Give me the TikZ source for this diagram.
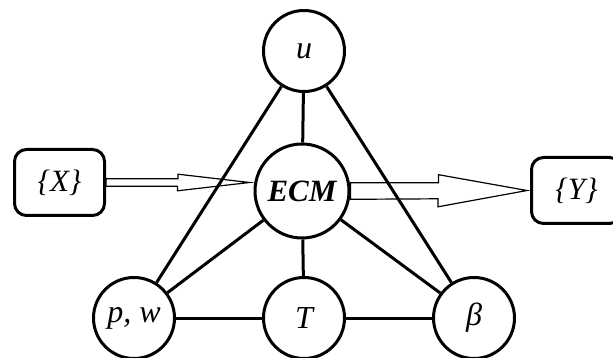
\documentclass[tikz,border=0pt]{standalone}
\usepackage{fontspec}
\setmainfont{Liberation Serif}

\begin{document}
\begin{tikzpicture}[x=1pt, y=-1pt,
  var/.style={draw, circle, line width=3pt, minimum size=81pt, inner sep=0pt, font=\fontsize{32}{38}\selectfont\itshape},
  core/.style={var, minimum size=94pt, font=\fontsize{31}{38}\selectfont\bfseries\itshape},
  setbox/.style={draw, rounded corners=12pt, line width=3pt, minimum width=90pt, minimum height=66pt, inner sep=0pt, font=\fontsize{31}{38}\selectfont\itshape},
  link/.style={line width=3pt},
  hollow/.style={line width=1.2pt, line join=miter}
]
\useasboundingbox (0,0) rectangle (613,358);

\node[var] (u) at (304,51) {u};
\node[core] (ECM) at (302,191) {ECM};
\node[var] (pw) at (134,318) {p, w};
\node[var] (T) at (304,318) {T};
\node[var] (beta) at (474,318) {β};

\node[setbox] (X) at (59.5,182.5) {\{X\}};
\node[setbox] (Y) at (576.5,190.5) {\{Y\}};

\coordinate (xtip) at ([xshift=-4pt]ECM.west |- X.east);
\coordinate (ytip) at ([xshift=-3pt]Y.west);

% input and output
\draw[hollow] ([yshift=3.7pt]X.east) -- ++(72,0) -- ++(0,-4.6) -- (xtip)
  -- ++(-72,8.3) -- ++(0,-4.6) -- ([yshift=-3.7pt]X.east) -- cycle;
\draw[hollow] ([yshift=8.3pt]ECM.east) -- ++(88,0) -- ++(0,-8) -- (ytip)
  -- ++(-89,16.3) -- ++(0,-8) -- ([yshift=-8.3pt]ECM.east) -- cycle;

\draw[link] (u) -- (ECM);
\draw[link] (u) -- (pw);
\draw[link] (u) -- (beta);
\draw[link] (ECM) -- (pw);
\draw[link] (ECM) -- (T);
\draw[link] (ECM) -- (beta);
\draw[link] (pw) -- (T);
\draw[link] (T) -- (beta);
\end{tikzpicture}
\end{document}
